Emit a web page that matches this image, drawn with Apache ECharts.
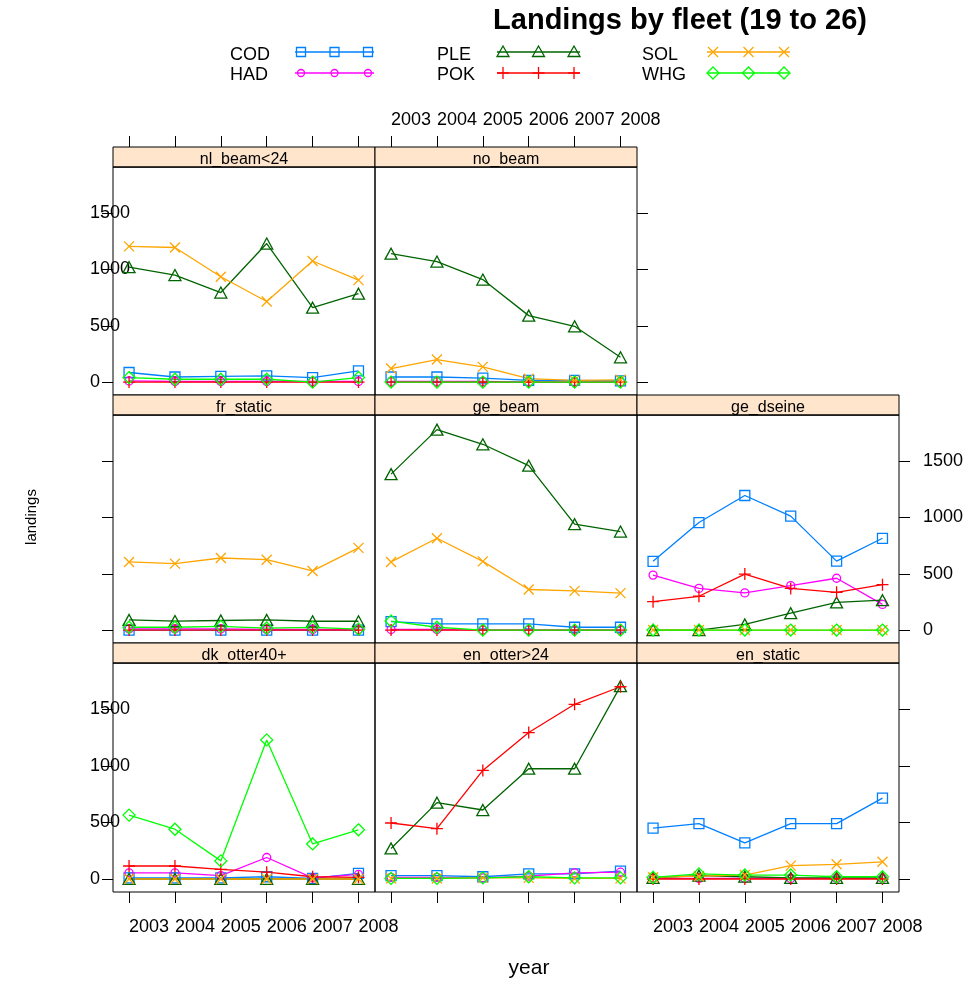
<!DOCTYPE html>
<html><head><meta charset="utf-8">
<script src="https://cdn.jsdelivr.net/npm/echarts@6/dist/echarts.min.js"></script>
<style>html,body{margin:0;padding:0;background:#fff}#c{width:971px;height:986px}</style>
</head><body><div id="c"></div>
<script>
// ---- data ----
const years = [2003, 2004, 2005, 2006, 2007, 2008];
const species = ['COD', 'HAD', 'PLE', 'POK', 'SOL', 'WHG'];
const yTicks = [0, 500, 1000, 1500];
// rows in species order: COD, HAD, PLE, POK, SOL, WHG
const nl_beam_lt24 = [
  [85, 45, 50, 55, 40, 100],
  [10, 5, 5, 5, 5, 5],
  [1020, 950, 795, 1230, 660, 785],
  [0, 0, 0, 0, 0, 0],
  [1205, 1195, 935, 715, 1075, 905],
  [40, 25, 25, 25, 0, 40]
];
const no_beam = [
  [45, 45, 35, 15, 15, 10],
  [5, 5, 5, 0, 0, 0],
  [1140, 1070, 910, 590, 495, 220],
  [0, 0, 0, 0, 0, 0],
  [120, 200, 135, 30, 15, 20],
  [0, 0, 0, 0, 0, 0]
];
const fr_static = [
  [0, 0, 0, 0, 0, 0],
  [10, 10, 10, 5, 5, 5],
  [90, 80, 85, 90, 78, 78],
  [0, 0, 0, 0, 0, 0],
  [605, 590, 640, 625, 525, 730],
  [25, 25, 33, 18, 24, 8]
];
const ge_beam = [
  [75, 55, 55, 55, 25, 25],
  [5, 5, 0, 0, 0, 0],
  [1385, 1780, 1650, 1460, 940, 875],
  [0, 0, 0, 0, 0, 0],
  [605, 815, 610, 360, 348, 328],
  [80, 25, 0, 0, 0, 0]
];
const ge_dseine = [
  [610, 955, 1195, 1012, 612, 815],
  [488, 370, 330, 395, 460, 228],
  [0, 0, 50, 150, 245, 265],
  [252, 300, 497, 370, 335, 403],
  [0, 0, 0, 0, 0, 0],
  [0, 0, 0, 0, 0, 0]
];
const dk_otter40 = [
  [10, 10, 10, 20, 5, 50],
  [55, 55, 30, 190, 10, 40],
  [0, 0, 0, 0, 0, 0],
  [115, 115, 85, 60, 20, 15],
  [0, 0, 0, 0, 0, 0],
  [565, 440, 160, 1230, 310, 435]
];
const en_otter24 = [
  [30, 30, 20, 45, 45, 70],
  [15, 15, 10, 25, 55, 60],
  [270, 675, 610, 975, 975, 1705],
  [495, 445, 960, 1295, 1545, 1700],
  [5, 5, 10, 10, 5, 5],
  [5, 5, 10, 20, 10, 10]
];
const en_static = [
  [450, 490, 320, 490, 490, 715],
  [5, 5, 5, 5, 5, 5],
  [10, 30, 20, 10, 10, 10],
  [0, 0, 0, 0, 0, 0],
  [15, 25, 35, 118, 130, 152],
  [15, 45, 35, 35, 20, 20]
];

// ---- styling / layout ----
const FONT = '"Liberation Sans", Arial, Helvetica, sans-serif';
const colors = ['#0080ff', '#ff00ff', '#006400', '#ff0000', '#ffa500', '#00ff00'];
const symbols = ['rect', 'circle', 'triangle', 'path://M5 0L5 10M0 5L10 5', 'path://M0 0L10 10M10 0L0 10', 'diamond'];
const symSizes = [10, 8, [12, 11], 12, 10, 12];
const X_MIN = 2002.65, X_MAX = 2008.36, Y_MIN = -115, Y_MAX = 1910;
const colLeft = [113, 375, 637], colW = 262;
const rowTop = [167, 415, 663], rowH = [228, 228, 229], stripH = 20, tickLen = 11;

const panels = [
  { name: 'nl_beam<24', data: nl_beam_lt24, col: 0, row: 0, top: 'ticks', left: 'labels' },
  { name: 'no_beam', data: no_beam, col: 1, row: 0, top: 'labels', right: 'ticks' },
  { name: 'fr_static', data: fr_static, col: 0, row: 1, left: 'ticks' },
  { name: 'ge_beam', data: ge_beam, col: 1, row: 1 },
  { name: 'ge_dseine', data: ge_dseine, col: 2, row: 1, right: 'labels' },
  { name: 'dk_otter40+', data: dk_otter40, col: 0, row: 2, bottom: 'labels', left: 'labels' },
  { name: 'en_otter>24', data: en_otter24, col: 1, row: 2, bottom: 'ticks' },
  { name: 'en_static', data: en_static, col: 2, row: 2, bottom: 'labels', right: 'ticks' }
];

function mkX(gi, pos, mode, inside) {
  const show = !!mode;
  return {
    type: 'value', gridIndex: gi, position: pos,
    min: X_MIN, max: X_MAX, show: show,
    axisLine: { show: false, onZero: false }, splitLine: { show: false },
    axisTick: { show: show, inside: !!inside, customValues: years, length: tickLen, lineStyle: { color: '#000', width: 1 } },
    axisLabel: {
      show: mode === 'labels', customValues: years, formatter: v => String(v),
      align: 'left', margin: pos === 'top' ? 7 : 26, fontSize: 18, lineHeight: 18,
      color: '#000', fontFamily: FONT
    }
  };
}
function mkY(gi, pos, mode) {
  const show = !!mode;
  return {
    type: 'value', gridIndex: gi, position: pos, min: Y_MIN, max: Y_MAX, show: show,
    axisLine: { show: false, onZero: false }, splitLine: { show: false },
    axisTick: { show: show, customValues: yTicks, length: tickLen, lineStyle: { color: '#000', width: 1 } },
    axisLabel: {
      show: mode === 'labels', customValues: yTicks, formatter: v => String(v),
      align: 'left', verticalAlign: 'middle', margin: pos === 'left' ? 23 : 24,
      fontSize: 18, color: '#000', fontFamily: FONT
    }
  };
}

const grid = [], xAxis = [], yAxis = [], series = [], graphic = [];
panels.forEach((p, i) => {
  const L = colLeft[p.col], T = rowTop[p.row], H = rowH[p.row];
  const gi = grid.length;
  grid.push({ left: L, top: T, width: colW, height: H, show: true, borderColor: '#000', borderWidth: 1,
    backgroundColor: 'transparent', containLabel: false, outerBoundsMode: 'none' });
  const xi = xAxis.length;
  xAxis.push(mkX(gi, 'bottom', p.bottom));
  const yi = yAxis.length;
  yAxis.push(mkY(gi, 'left', p.left));
  yAxis.push(mkY(gi, 'right', p.right));
  if (p.top) {
    // helper frame whose top edge sits one tick-length above the strip; ticks drawn inward down to the strip
    const gt = grid.length;
    const top0 = T - stripH - tickLen;
    grid.push({ left: L, top: top0, width: colW, height: H + stripH + tickLen, show: false,
      containLabel: false, outerBoundsMode: 'none' });
    xAxis.push(mkX(gt, 'top', p.top, true));
    yAxis.push(mkY(gt, 'left', null));
  }
  species.forEach((sp, s) => {
    series.push({
      type: 'line', name: sp, xAxisIndex: xi, yAxisIndex: yi,
      data: years.map((y, k) => [y, p.data[s][k]]),
      symbol: symbols[s], symbolSize: symSizes[s], showSymbol: true,
      lineStyle: { color: colors[s], width: 1.3 },
      itemStyle: { color: 'rgba(0,0,0,0)', borderColor: colors[s], borderWidth: 1.3 },
      silent: true, animation: false, emphasis: { disabled: true }
    });
  });
  // strip
  graphic.push({ type: 'rect', shape: { x: L, y: T - stripH, width: colW, height: stripH },
    style: { fill: '#ffe5cc', stroke: '#000', lineWidth: 1 }, silent: true });
  graphic.push({ type: 'text', x: L + colW / 2, y: T - 7,
    style: { text: p.name, fontSize: 16, fontFamily: FONT, fill: '#000', align: 'center', verticalAlign: 'middle' }, silent: true });
  graphic.push({ type: 'line', shape: { x1: L, y1: T, x2: L + colW, y2: T },
    style: { stroke: '#000', lineWidth: 1.2 }, silent: true });
});

// ---- legend (drawn) ----
function symG(s, cx, cy) {
  const st = { fill: 'none', stroke: colors[s], lineWidth: 1.3 };
  switch (s) {
    case 0: return [{ type: 'rect', shape: { x: cx - 4.5, y: cy - 4.5, width: 9, height: 9 }, style: st }];
    case 1: return [{ type: 'circle', shape: { cx: cx, cy: cy, r: 3.5 }, style: st }];
    case 2: return [{ type: 'polygon', shape: { points: [[cx, cy - 6], [cx + 6, cy + 4.5], [cx - 6, cy + 4.5]] }, style: st }];
    case 3: return [{ type: 'line', shape: { x1: cx - 6, y1: cy, x2: cx + 6, y2: cy }, style: st },
                    { type: 'line', shape: { x1: cx, y1: cy - 6, x2: cx, y2: cy + 6 }, style: st }];
    case 4: return [{ type: 'line', shape: { x1: cx - 5, y1: cy - 5, x2: cx + 5, y2: cy + 5 }, style: st },
                    { type: 'line', shape: { x1: cx + 5, y1: cy - 5, x2: cx - 5, y2: cy + 5 }, style: st }];
    default: return [{ type: 'polygon', shape: { points: [[cx, cy - 6], [cx + 6, cy], [cx, cy + 6], [cx - 6, cy]] }, style: st }];
  }
}
const legTextX = [230, 437, 642];
const legLine = [[295, 374], [497, 580], [707, 790]];
const legTextY = [55, 75], legSymY = [52, 73];
species.forEach((sp, s) => {
  const c = Math.floor(s / 2), r = s % 2;
  graphic.push({ type: 'text', x: legTextX[c], y: legTextY[r],
    style: { text: sp, fontSize: 18, fontFamily: FONT, fill: '#000', align: 'left', verticalAlign: 'middle' }, silent: true });
  const [x0, x1] = legLine[c];
  graphic.push({ type: 'line', shape: { x1: x0, y1: legSymY[r], x2: x1, y2: legSymY[r] },
    style: { stroke: colors[s], lineWidth: 1.3 }, silent: true });
  [x0 + 6, (x0 + x1) / 2, x1 - 6].forEach(cx => symG(s, cx, legSymY[r]).forEach(g => { g.silent = true; graphic.push(g); }));
});

// ---- titles ----
graphic.push({ type: 'text', x: 680, y: 21,
  style: { text: 'Landings by fleet (19 to 26)', fontSize: 29, fontWeight: 'bold', fontFamily: FONT, fill: '#000', align: 'center', verticalAlign: 'middle' }, silent: true });
graphic.push({ type: 'text', x: 32, y: 517, rotation: Math.PI / 2,
  style: { text: 'landings', fontSize: 15, fontFamily: FONT, fill: '#000', align: 'center', verticalAlign: 'middle' }, silent: true });
graphic.push({ type: 'text', x: 529, y: 968,
  style: { text: 'year', fontSize: 21, fontFamily: FONT, fill: '#000', align: 'center', verticalAlign: 'middle' }, silent: true });

const chart = echarts.init(document.getElementById('c'), null, { renderer: 'canvas' });
chart.setOption({
  animation: false,
  backgroundColor: '#fff',
  grid: grid, xAxis: xAxis, yAxis: yAxis, series: series,
  graphic: { elements: graphic }
});
</script></body></html>
